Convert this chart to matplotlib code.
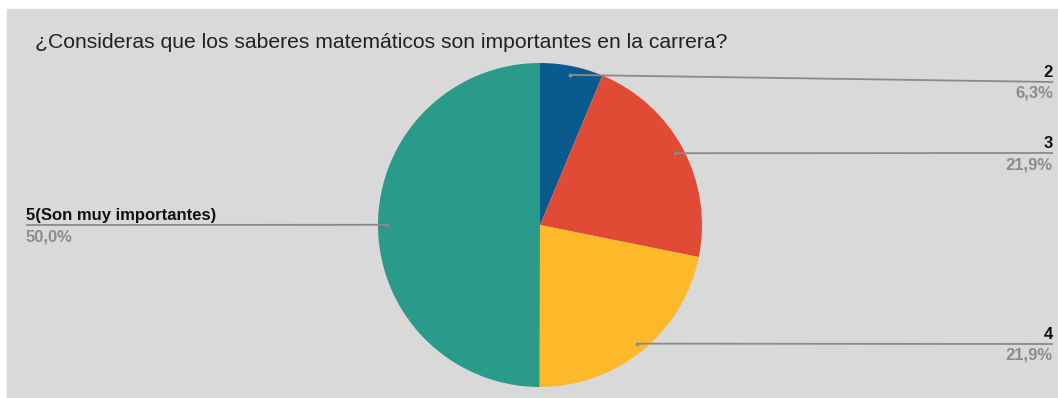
import numpy as np
import matplotlib.pyplot as plt
from matplotlib.patches import Rectangle

plt.rcParams['font.family'] = ['Liberation Sans', 'DejaVu Sans']

title = '¿Consideras que los saberes matemáticos son importantes en la carrera?'
labels = ['2', '3', '4', '5(Son muy importantes)']
values = [6.3, 21.9, 21.9, 50.0]
pct_text = ['6,3%', '21,9%', '21,9%', '50,0%']
colors = ['#0a5a8e', '#e14b35', '#fdb92a', '#2a9a8b']

W, H = 1058, 398
fig = plt.figure(figsize=(W / 100, H / 100), dpi=100)
ax = fig.add_axes([0, 0, 1, 1])

# grey panel, small white margin top/left
ax.add_patch(Rectangle((7, 0), W - 7, H - 9, color='#d9d9d9', zorder=0))

def py(y):
    return H - y

cx, cy, r = 540, py(225), 162
wedges, _ = ax.pie(values, colors=colors, startangle=90, counterclock=False,
                   center=(cx, cy), radius=r, frame=True,
                   wedgeprops=dict(linewidth=0))
ax.set_xlim(0, W)
ax.set_ylim(0, H)
ax.set_aspect('equal')
ax.axis('off')

ax.text(35, py(42), title, fontsize=15.2, color='#222222', va='center', ha='left')

# label line heights (pixel rows) for each slice
label_y = [82, 153, 344, 225]
for w, lab, pct, ly in zip(wedges, labels, pct_text, label_y):
    mid = np.deg2rad((w.theta1 + w.theta2) / 2)
    ax0 = cx + 0.945 * r * np.cos(mid)
    ay0 = cy + 0.945 * r * np.sin(mid)
    if np.cos(mid) >= 0:
        x_end, ha = 1053, 'right'
    else:
        x_end, ha = 26, 'left'
    ax.plot([ax0, x_end], [ay0, py(ly)], color='#8a8a8a', lw=1.3,
            solid_capstyle='butt', zorder=3)
    ax.plot(ax0, ay0, 'o', color='#8a8a8a', ms=1.8, zorder=3)
    ax.text(x_end, py(ly) + 2, lab, fontsize=12, fontweight='bold',
            color='#111111', ha=ha, va='bottom')
    ax.text(x_end, py(ly) - 4, pct, fontsize=12, fontweight='bold',
            color='#8c8c8c', ha=ha, va='top')

fig.savefig('out.png', dpi=100, facecolor='white')
